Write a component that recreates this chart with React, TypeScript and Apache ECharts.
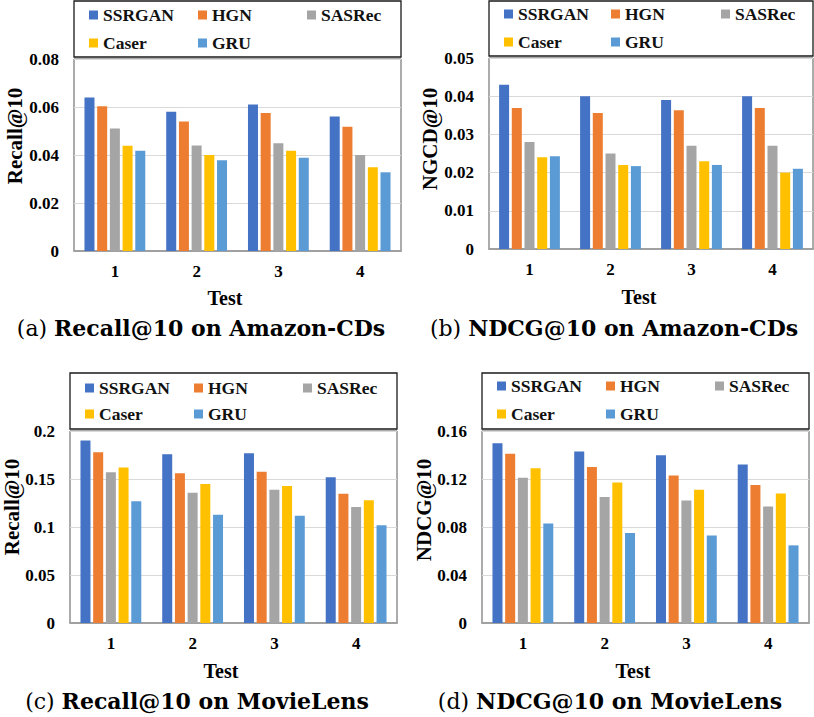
import React, { useEffect, useRef } from 'react';
import * as echarts from 'echarts';

const categories = ['1', '2', '3', '4'];
const seriesNames = ['SSRGAN', 'HGN', 'SASRec', 'Caser', 'GRU'];
const colors = ['#4472C4', '#ED7D31', '#A5A5A5', '#FFC000', '#5B9BD5'];

// (a) Recall@10 on Amazon-CDs
const aSSRGAN = [0.064, 0.058, 0.061, 0.056];
const aHGN = [0.0603, 0.054, 0.0575, 0.0518];
const aSASRec = [0.051, 0.044, 0.0449, 0.04];
const aCaser = [0.0439, 0.04, 0.0418, 0.0349];
const aGRU = [0.0418, 0.0378, 0.0389, 0.0328];

// (b) NDCG@10 on Amazon-CDs
const bSSRGAN = [0.043, 0.04, 0.039, 0.04];
const bHGN = [0.0369, 0.0356, 0.0363, 0.0369];
const bSASRec = [0.028, 0.025, 0.027, 0.027];
const bCaser = [0.024, 0.022, 0.023, 0.02];
const bGRU = [0.0243, 0.0217, 0.022, 0.021];

// (c) Recall@10 on MovieLens
const cSSRGAN = [0.19, 0.1757, 0.1767, 0.1517];
const cHGN = [0.1778, 0.156, 0.1576, 0.1347];
const cSASRec = [0.157, 0.1358, 0.1389, 0.1208];
const cCaser = [0.162, 0.1448, 0.1427, 0.1278];
const cGRU = [0.1267, 0.1128, 0.1118, 0.1017];

// (d) NDCG@10 on MovieLens
const dSSRGAN = [0.1497, 0.143, 0.1397, 0.132];
const dHGN = [0.1411, 0.13, 0.123, 0.115];
const dSASRec = [0.1211, 0.105, 0.102, 0.097];
const dCaser = [0.129, 0.117, 0.111, 0.108];
const dGRU = [0.083, 0.075, 0.073, 0.0647];

const yMax = [0.08, 0.05, 0.2, 0.16];
const yInterval = [0.02, 0.01, 0.05, 0.04];
const yNames = ['Recall@10', 'NGCD@10', 'Recall@10', 'NDCG@10'];
const xName = 'Test';
const captionTags = ['(a)', '(b)', '(c)', '(d)'];
const captionTexts = [
  'Recall@10 on Amazon-CDs',
  'NDCG@10 on Amazon-CDs',
  'Recall@10 on MovieLens',
  'NDCG@10 on MovieLens',
];

const panelData = [
  [aSSRGAN, aHGN, aSASRec, aCaser, aGRU],
  [bSSRGAN, bHGN, bSASRec, bCaser, bGRU],
  [cSSRGAN, cHGN, cSASRec, cCaser, cGRU],
  [dSSRGAN, dHGN, dSASRec, dCaser, dGRU],
];

// layout (pixels)
const layouts = [
  { left: 74, top: 59, width: 327, height: 192, boxTop: 1, rows: [15, 43], cols: [89, 198, 307], yNameX: 15, yNameY: 136, testX: 225, testY: 298, capX: 201, capY: 328 },
  { left: 489, top: 58, width: 324, height: 191, boxTop: 1, rows: [14, 42], cols: [504, 611, 721], yNameX: 430, yNameY: 139, testX: 639, testY: 297, capX: 614, capY: 328 },
  { left: 70, top: 431, width: 327, height: 192, boxTop: 373, rows: [388, 414], cols: [85, 194, 303], yNameX: 12, yNameY: 507, testX: 221, testY: 671, capX: 197, capY: 701 },
  { left: 482, top: 431, width: 327, height: 192, boxTop: 373, rows: [386, 414], cols: [497, 606, 715], yNameX: 424, yNameY: 510, testX: 633, testY: 671, capX: 610, capY: 701 },
];

const FONT = 'Liberation Serif';
const CAPFONT = 'DejaVu Serif';

export default function App() {
  const ref = useRef<HTMLDivElement>(null);
  useEffect(() => {
    const chart = echarts.init(ref.current!, null, { renderer: 'svg', width: 814, height: 717 });
    const grids: any[] = [];
    const xAxes: any[] = [];
    const yAxes: any[] = [];
    const series: any[] = [];
    const legends: any[] = [];
    const graphics: any[] = [];

    layouts.forEach((L, p) => {
      grids.push({
        left: L.left, top: L.top, width: L.width, height: L.height,
        show: true, borderColor: '#595959', borderWidth: 1, backgroundColor: 'transparent',
      });
      xAxes.push({
        type: 'category', gridIndex: p, data: categories,
        axisLine: { show: true, lineStyle: { color: '#a0a0a0', width: 2 } },
        axisTick: { show: false },
        axisLabel: { margin: 12, color: '#000', fontFamily: FONT, fontWeight: 'bold', fontSize: 17 },
        splitLine: { show: false },
      });
      yAxes.push({
        type: 'value', gridIndex: p, min: 0, max: yMax[p], interval: yInterval[p],
        axisLine: { show: false }, axisTick: { show: false },
        axisLabel: { margin: 15, color: '#000', fontFamily: FONT, fontWeight: 'bold', fontSize: 17 },
        splitLine: { show: true, lineStyle: { color: '#d9d9d9', width: 1 } },
      });
      seriesNames.forEach((name, i) => {
        series.push({
          type: 'bar', name, xAxisIndex: p, yAxisIndex: p,
          data: panelData[p][i],
          barWidth: 10, barGap: '27%',
          itemStyle: { color: colors[i] },
        });
        const row = i < 3 ? 0 : 1;
        const col = i < 3 ? i : i - 3;
        legends.push({
          data: [name], left: L.cols[col], top: L.rows[row] - 9,
          padding: 0, itemWidth: 9, itemHeight: 9, itemGap: 5, icon: 'rect',
          textStyle: { color: '#111', fontFamily: FONT, fontWeight: 'bold', fontSize: 17.5 },
          selectedMode: false,
        });
      });
      graphics.push({
        type: 'rect', shape: { x: L.left, y: L.boxTop, width: L.width, height: L.top - L.boxTop - 2 },
        style: { fill: 'none', stroke: '#1a1a1a', lineWidth: 1.3 }, z: 10,
      });
      graphics.push({
        type: 'text', x: L.yNameX, y: L.yNameY, rotation: Math.PI / 2,
        style: { text: yNames[p], fill: '#000', fontFamily: FONT, fontWeight: 'bold', fontSize: 21, align: 'center', verticalAlign: 'middle' },
      });
      graphics.push({
        type: 'text', x: L.testX, y: L.testY,
        style: { text: xName, fill: '#000', fontFamily: FONT, fontWeight: 'bold', fontSize: 20, align: 'center', verticalAlign: 'middle' },
      });
      graphics.push({
        type: 'text', x: L.capX, y: L.capY,
        style: {
          text: `{n|${captionTags[p]}}{n| }{b|${captionTexts[p]}}`,
          align: 'center', verticalAlign: 'middle',
          rich: {
            n: { fontFamily: CAPFONT, fontSize: 22, fontWeight: 'normal', fill: '#000' },
            b: { fontFamily: CAPFONT, fontSize: 22, fontWeight: 'bold', fill: '#000' },
          },
        },
      });
    });

    chart.setOption({
      animation: false,
      backgroundColor: '#fff',
      grid: grids, xAxis: xAxes, yAxis: yAxes, series, legend: legends, graphic: graphics,
    });
    return () => chart.dispose();
  }, []);
  return (
    <div ref={ref} style={{ position: 'fixed', left: 0, top: 0, width: 814, height: 717, background: '#fff' }} />
  );
}
